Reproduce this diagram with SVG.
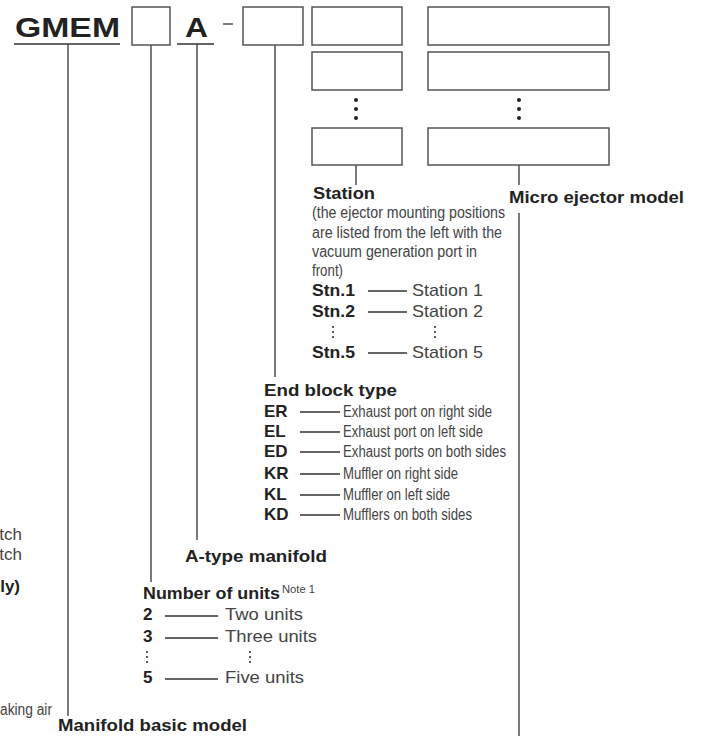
<svg xmlns="http://www.w3.org/2000/svg" width="703" height="736" viewBox="0 0 703 736">
<style>
.box{fill:#fff;stroke:#555;stroke-width:1.5}
.ln{stroke:#333;stroke-width:1.3;fill:none}
.b{font-family:"Liberation Sans",Arial,sans-serif;font-weight:bold;fill:#222;font-size:17px}
.r{font-family:"Liberation Sans",Arial,sans-serif;fill:#444;font-size:17px}
.n{font-family:"Liberation Sans",Arial,sans-serif;fill:#444;font-size:16px}
.dot{fill:#222}
</style>
<rect width="703" height="736" fill="#fff"/>
<g id="connectors" class="ln">
<line x1="14" y1="44" x2="120" y2="44"/>
<line x1="177" y1="44" x2="214" y2="44"/>
<line x1="223" y1="24" x2="233" y2="24"/>
<line x1="68" y1="44" x2="68" y2="716"/>
<line x1="151" y1="45" x2="151" y2="582"/>
<line x1="197" y1="44" x2="197" y2="540"/>
<line x1="275" y1="45" x2="275" y2="377"/>
<line x1="356" y1="165" x2="356" y2="185"/>
<line x1="519" y1="165" x2="519" y2="185"/>
<line x1="519" y1="213" x2="519" y2="736"/>
</g>
<g id="code">
<text x="15" y="37" class="b" style="font-size:28px" textLength="105" lengthAdjust="spacingAndGlyphs">GMEM</text>
<rect id="box-units" class="box" x="132" y="7" width="38" height="38"/>
<text x="185" y="37" class="b" style="font-size:28px" textLength="23" lengthAdjust="spacingAndGlyphs">A</text>
<rect id="box-end" class="box" x="243" y="7" width="60" height="38"/>
<rect class="box" x="312" y="7" width="90" height="38"/>
<rect class="box" x="312" y="52" width="90" height="38"/>
<rect class="box" x="312" y="128" width="90" height="37"/>
<rect class="box" x="428" y="7" width="181" height="38"/>
<rect class="box" x="428" y="52" width="181" height="38"/>
<rect class="box" x="428" y="128" width="181" height="37"/>
<circle class="dot" cx="356" cy="100" r="2"/><circle class="dot" cx="356" cy="109" r="2"/><circle class="dot" cx="356" cy="118" r="2"/>
<circle class="dot" cx="519" cy="100" r="2"/><circle class="dot" cx="519" cy="109" r="2"/><circle class="dot" cx="519" cy="118" r="2"/>
</g>
<g id="station">
<text x="313" y="199" class="b" textLength="62" lengthAdjust="spacingAndGlyphs">Station</text>
<text x="312" y="218" class="n" textLength="193" lengthAdjust="spacingAndGlyphs">(the ejector mounting positions</text>
<text x="312" y="238" class="n" textLength="190" lengthAdjust="spacingAndGlyphs">are listed from the left with the</text>
<text x="312" y="257" class="n" textLength="165" lengthAdjust="spacingAndGlyphs">vacuum generation port in</text>
<text x="312" y="276" class="n" textLength="31" lengthAdjust="spacingAndGlyphs">front)</text>
<text x="312" y="296" class="b" textLength="43" lengthAdjust="spacingAndGlyphs">Stn.1</text>
<text x="312" y="317" class="b" textLength="43" lengthAdjust="spacingAndGlyphs">Stn.2</text>
<text x="312" y="358" class="b" textLength="43" lengthAdjust="spacingAndGlyphs">Stn.5</text>
<g class="ln"><line x1="368" y1="291" x2="407" y2="291"/><line x1="368" y1="312" x2="407" y2="312"/><line x1="368" y1="353" x2="407" y2="353"/></g>
<text x="412" y="296" class="r" textLength="71" lengthAdjust="spacingAndGlyphs">Station 1</text>
<text x="412" y="317" class="r" textLength="71" lengthAdjust="spacingAndGlyphs">Station 2</text>
<text x="412" y="358" class="r" textLength="71" lengthAdjust="spacingAndGlyphs">Station 5</text>
<circle class="dot" cx="333" cy="327" r="1"/><circle class="dot" cx="333" cy="332" r="1"/><circle class="dot" cx="333" cy="337" r="1"/>
<circle class="dot" cx="435" cy="327" r="1"/><circle class="dot" cx="435" cy="332" r="1"/><circle class="dot" cx="435" cy="337" r="1"/>
</g>
<g id="micro-ejector">
<text x="509" y="203" class="b" textLength="175" lengthAdjust="spacingAndGlyphs">Micro ejector model</text>
</g>
<g id="end-block">
<text x="264" y="396" class="b" textLength="133" lengthAdjust="spacingAndGlyphs">End block type</text>
<text x="264" y="417" class="b">ER</text>
<text x="264" y="437" class="b">EL</text>
<text x="264" y="457" class="b">ED</text>
<text x="264" y="479" class="b">KR</text>
<text x="264" y="500" class="b">KL</text>
<text x="264" y="520" class="b">KD</text>
<g class="ln"><line x1="300" y1="412" x2="340" y2="412"/><line x1="300" y1="432" x2="340" y2="432"/><line x1="300" y1="452" x2="340" y2="452"/><line x1="300" y1="474" x2="340" y2="474"/><line x1="300" y1="495" x2="340" y2="495"/><line x1="300" y1="515" x2="340" y2="515"/></g>
<text x="343" y="417" class="n" textLength="149" lengthAdjust="spacingAndGlyphs">Exhaust port on right side</text>
<text x="343" y="437" class="n" textLength="140" lengthAdjust="spacingAndGlyphs">Exhaust port on left side</text>
<text x="343" y="457" class="n" textLength="163" lengthAdjust="spacingAndGlyphs">Exhaust ports on both sides</text>
<text x="343" y="479" class="n" textLength="115" lengthAdjust="spacingAndGlyphs">Muffler on right side</text>
<text x="343" y="500" class="n" textLength="107" lengthAdjust="spacingAndGlyphs">Muffler on left side</text>
<text x="343" y="520" class="n" textLength="129" lengthAdjust="spacingAndGlyphs">Mufflers on both sides</text>
</g>
<g id="a-type">
<text x="185" y="562" class="b" textLength="142" lengthAdjust="spacingAndGlyphs">A-type manifold</text>
</g>
<g id="units">
<text x="143" y="599" class="b" textLength="137" lengthAdjust="spacingAndGlyphs">Number of units</text>
<text x="282" y="593" class="r" style="font-size:10px" textLength="33" lengthAdjust="spacingAndGlyphs">Note 1</text>
<text x="143" y="620" class="b">2</text>
<text x="143" y="642" class="b">3</text>
<text x="143" y="683" class="b">5</text>
<g class="ln"><line x1="165" y1="616" x2="218" y2="616"/><line x1="165" y1="638" x2="218" y2="638"/><line x1="165" y1="679" x2="218" y2="679"/></g>
<text x="225" y="620" class="r" textLength="78" lengthAdjust="spacingAndGlyphs">Two units</text>
<text x="225" y="642" class="r" textLength="92" lengthAdjust="spacingAndGlyphs">Three units</text>
<text x="225" y="683" class="r" textLength="79" lengthAdjust="spacingAndGlyphs">Five units</text>
<circle class="dot" cx="147" cy="652" r="1"/><circle class="dot" cx="147" cy="657" r="1"/><circle class="dot" cx="147" cy="662" r="1"/>
<circle class="dot" cx="250" cy="652" r="1"/><circle class="dot" cx="250" cy="657" r="1"/><circle class="dot" cx="250" cy="662" r="1"/>
</g>
<g id="basic-model">
<text x="58" y="731" class="b" textLength="189" lengthAdjust="spacingAndGlyphs">Manifold basic model</text>
</g>
<g id="left-fragments">
<text x="22" y="540" class="r" text-anchor="end">tch</text>
<text x="22" y="560" class="r" text-anchor="end">tch</text>
<text x="20" y="592" class="b" text-anchor="end">ly)</text>
<text x="52" y="715" class="n" text-anchor="end" textLength="52" lengthAdjust="spacingAndGlyphs">aking air</text>
</g>
</svg>
